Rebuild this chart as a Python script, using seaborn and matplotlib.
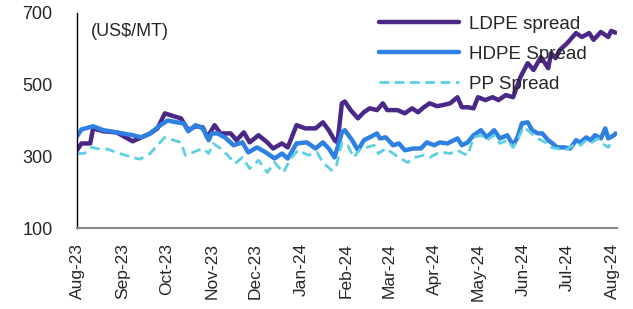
import numpy as np
import pandas as pd
import matplotlib
matplotlib.use("Agg")
import matplotlib.pyplot as plt
import matplotlib.dates as mdates
import seaborn as sns

# days since 2023-08-01, values in US$/MT
ldpe_days = [0, 3, 9, 11, 18, 27, 38, 44, 50, 55, 60, 66, 71, 76, 81, 86, 89,
             94, 98, 105, 109, 114, 118, 124, 130, 134, 140, 144, 150, 156,
             163, 168, 172, 176, 178, 181, 183, 187, 192, 196, 200, 205, 209,
             212, 219, 224, 229, 233, 237, 241, 246, 250, 255, 260, 263, 267,
             271, 274, 279, 284, 288, 293, 298, 303, 308, 312, 317, 322, 324,
             327, 330, 335, 341, 345, 350, 353, 358, 363, 365, 368]
ldpe_vals = [317, 336, 336, 378, 370, 367, 342, 353, 364, 378, 420, 412, 406,
             373, 384, 381, 353, 387, 364, 364, 345, 367, 339, 359, 339, 322,
             336, 325, 387, 378, 378, 395, 373, 345, 339, 448, 453, 429, 406,
             423, 434, 429, 448, 429, 429, 420, 434, 423, 437, 448, 440, 443,
             448, 465, 437, 437, 434, 465, 457, 465, 457, 471, 465, 521, 560,
             541, 577, 546, 588, 574, 597, 616, 644, 633, 644, 625, 647, 633,
             650, 645]

hdpe_days = [0, 3, 11, 18, 27, 38, 44, 50, 57, 62, 68, 73, 76, 81, 86, 90, 92,
             96, 101, 107, 113, 117, 123, 129, 135, 140, 144, 150, 157, 163,
             168, 172, 176, 181, 183, 188, 192, 196, 200, 205, 207, 211, 216,
             220, 224, 230, 235, 239, 244, 248, 253, 260, 263, 267, 271, 276,
             280, 285, 289, 294, 298, 301, 304, 308, 311, 315, 318, 322, 325,
             328, 333, 337, 341, 344, 348, 351, 354, 358, 361, 363, 367, 368]
hdpe_vals = [356, 375, 384, 373, 367, 359, 353, 364, 387, 400, 395, 392, 370,
             387, 378, 345, 364, 364, 353, 331, 339, 311, 325, 311, 294, 308,
             294, 336, 339, 322, 339, 322, 297, 367, 373, 345, 317, 345, 353,
             364, 350, 353, 331, 336, 317, 322, 322, 339, 331, 339, 336, 350,
             331, 339, 359, 373, 353, 373, 350, 359, 331, 353, 392, 395, 373,
             364, 364, 345, 336, 325, 325, 322, 345, 339, 353, 345, 359, 350,
             378, 350, 359, 364]

pp_days = [0, 5, 10, 16, 21, 29, 38, 43, 50, 55, 60, 66, 71, 74, 79, 86, 90,
           93, 98, 103, 108, 113, 118, 124, 130, 135, 141, 146, 151, 158, 164,
           168, 174, 177, 181, 185, 189, 194, 198, 203, 206, 211, 216, 221,
           226, 231, 237, 241, 246, 250, 255, 260, 264, 267, 271, 276, 280,
           285, 289, 294, 298, 301, 305, 308, 312, 315, 320, 324, 328, 333,
           337, 341, 344, 348, 352, 356, 359, 363, 366]
pp_vals = [308, 308, 325, 320, 320, 308, 297, 292, 308, 331, 353, 345, 339,
           303, 311, 322, 308, 336, 322, 303, 280, 297, 266, 289, 255, 283,
           255, 294, 317, 303, 311, 283, 261, 270, 339, 331, 297, 322, 325,
           331, 308, 322, 308, 294, 283, 297, 303, 297, 308, 311, 308, 317,
           308, 303, 353, 359, 345, 359, 336, 345, 325, 345, 381, 373, 359,
           350, 339, 325, 322, 317, 325, 336, 331, 345, 339, 350, 336, 325,
           345]

start = pd.Timestamp("2023-08-01")


def to_frame(days, vals):
    return pd.DataFrame({"date": start + pd.to_timedelta(days, unit="D"),
                         "value": vals})


sns.set_style("white")
plt.rcParams["font.family"] = ["Liberation Sans", "DejaVu Sans"]

fig = plt.figure(figsize=(6.33, 3.09), dpi=100)
ax = fig.add_axes([0.1217, 0.262, 0.853, 0.696])

sns.lineplot(data=to_frame(ldpe_days, ldpe_vals), x="date", y="value",
             color="#4b2887", linewidth=3.2, label="LDPE spread", ax=ax)
sns.lineplot(data=to_frame(hdpe_days, hdpe_vals), x="date", y="value",
             color="#2e80e3", linewidth=3.2, label="HDPE Spread", ax=ax)
sns.lineplot(data=to_frame(pp_days, pp_vals), x="date", y="value",
             color="#5ccfe0", linewidth=2.0, linestyle=(0, (3.5, 2)),
             label="PP Spread", ax=ax)

ax.set_xlim(start, start + pd.Timedelta(days=369))
ax.set_ylim(100, 700)
ax.set_yticks([100, 300, 500, 700])
ax.xaxis.set_major_locator(mdates.MonthLocator())
ax.xaxis.set_major_formatter(mdates.DateFormatter("%b-%y"))
ax.set_xlabel("")
ax.set_ylabel("")

for s in ["top", "right"]:
    ax.spines[s].set_visible(False)
ax.spines["left"].set_color("black")
ax.spines["left"].set_linewidth(1.0)
ax.spines["bottom"].set_color("#888888")
ax.spines["bottom"].set_linewidth(1.5)

ax.tick_params(axis="y", direction="out", length=6.5, width=1.2,
               color="#888888", labelsize=13, pad=11)
ax.tick_params(axis="x", direction="out", length=5, width=1.2,
               color="#555555", labelsize=12.5, labelrotation=90, pad=6)

ax.text(0.025, 0.955, "(US$/MT)", transform=ax.transAxes, fontsize=13,
        va="top", ha="left")

ax.legend(loc="upper right", bbox_to_anchor=(0.975, 1.065), frameon=False,
          fontsize=13.5, handlelength=4.3, labelspacing=0.68,
          handletextpad=0.5)

fig.savefig("out.png", dpi=100)
